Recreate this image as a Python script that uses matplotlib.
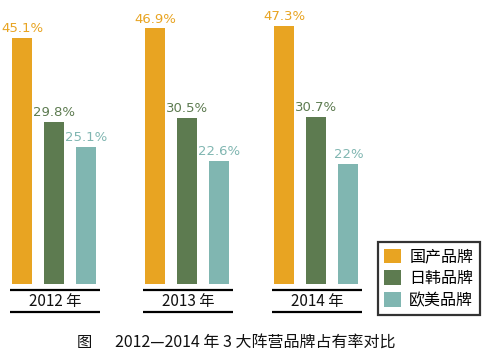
import matplotlib
matplotlib.use('Agg')
import matplotlib.pyplot as plt
from matplotlib.patches import Patch

plt.rcParams['font.family'] = ['Noto Sans CJK SC', 'DejaVu Sans']

years = ['2012 年', '2013 年', '2014 年']
series = ['国产品牌', '日韩品牌', '欧美品牌']
domestic = [45.1, 46.9, 47.3]
japan_korea = [29.8, 30.5, 30.7]
euro_us = [25.1, 22.6, 22.0]
value_labels = [['45.1%', '46.9%', '47.3%'],
                ['29.8%', '30.5%', '30.7%'],
                ['25.1%', '22.6%', '22%']]
colors = ['#E8A422', '#5D7B50', '#80B6B1']
caption = '2012—2014 年 3 大阵营品牌占有率对比'

fig = plt.figure(figsize=(4.92, 3.61), dpi=100)
ax = fig.add_axes([0, 77 / 361, 1, 284 / 361])
ax.set_xlim(-22 / 32, 470 / 32)
ax.set_ylim(0, 284 / 5.45)
ax.axis('off')

group_starts = [0, 4.16, 8.2]
data = [domestic, japan_korea, euro_us]
for j, vals in enumerate(data):
    xs = [g + j for g in group_starts]
    ax.bar(xs, vals, width=0.63, color=colors[j])
    for x, v, lab in zip(xs, vals, value_labels[j]):
        ax.text(x, v + 0.5, lab, ha='center', va='bottom', fontsize=9.5,
                color=colors[j], family='DejaVu Sans')

for g, yr in zip(group_starts, years):
    for yl in (-1.1, -5.2):
        ax.plot([g - 0.38, g + 2.44], [yl, yl], color='black', lw=1.6,
                clip_on=False, solid_capstyle='butt')
    ax.text(g + 1.03, -3.15, yr, ha='center', va='center', fontsize=11,
            color='#111111', clip_on=False)

handles = [Patch(facecolor=c, edgecolor='none') for c in colors]
leg = fig.legend(handles, series, loc='upper left',
                 bbox_to_anchor=(378 / 492, 1 - 242 / 361),
                 frameon=True, fancybox=False, fontsize=11.5,
                 handlelength=1.05, handleheight=1.05, handletextpad=0.5,
                 labelspacing=0.3, borderpad=0.4, borderaxespad=0)
leg.get_frame().set_edgecolor('black')
leg.get_frame().set_linewidth(1.6)

fig.text(77 / 492, 1 - 342 / 361, '图', ha='left', va='center',
         fontsize=11, color='#111111')
fig.text(115 / 492, 1 - 342 / 361, caption, ha='left', va='center',
         fontsize=11.5, color='#111111')

fig.savefig('out.png', dpi=100)
